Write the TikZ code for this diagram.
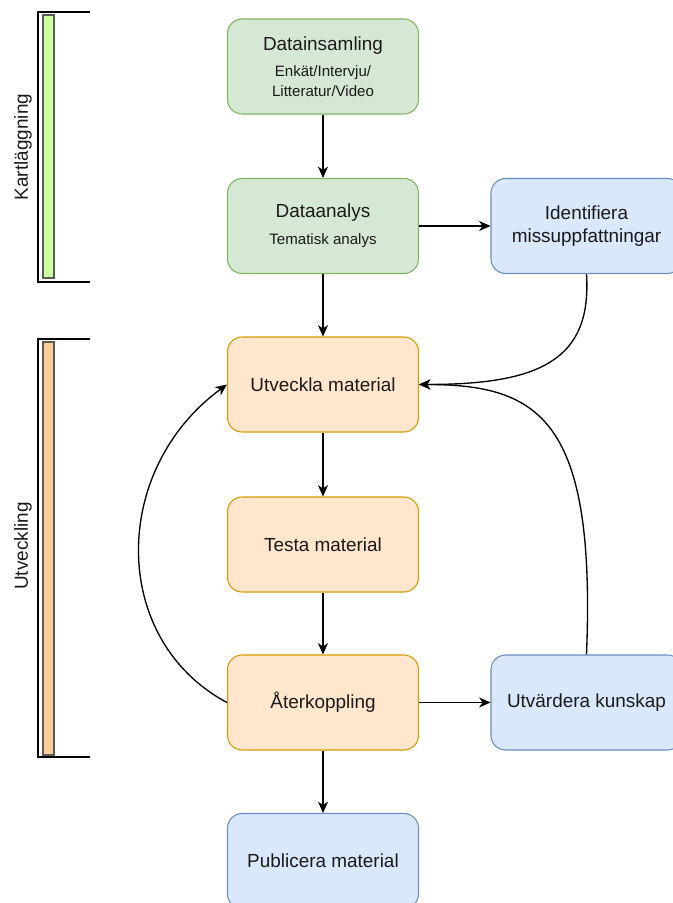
\documentclass[tikz,border=0pt]{standalone}
\usepackage{fontspec}
\setmainfont{Liberation Sans}
\usetikzlibrary{arrows.meta}
\definecolor{gfill}{HTML}{D5E8D4}
\definecolor{gdraw}{HTML}{82B366}
\definecolor{ofill}{HTML}{FFE6CC}
\definecolor{odraw}{HTML}{D79B00}
\definecolor{bfill}{HTML}{DAE8FC}
\definecolor{bdraw}{HTML}{6C8EBF}
\definecolor{txt}{HTML}{1A1A1A}
\definecolor{limebar}{HTML}{CCFF99}
\definecolor{orangebar}{HTML}{FFCC99}
\definecolor{barline}{HTML}{5A5A5A}
\begin{document}
\begin{tikzpicture}[x=0.75pt,y=-0.75pt,
  box/.style={rounded corners=11pt, minimum width=143.25pt, minimum height=71.25pt,
    line width=0.8pt, align=center, inner sep=0pt, text=txt,
    font=\fontsize{14.2}{17}\selectfont},
  greenbox/.style={box, fill=gfill, draw=gdraw},
  orangebox/.style={box, fill=ofill, draw=odraw},
  bluebox/.style={box, fill=bfill, draw=bdraw},
  edge/.style={-{Stealth[length=8.5pt,width=7.5pt,inset=2.5pt]}, line width=1pt, draw=black},
  bracket/.style={line width=1.2pt, draw=black},
  bar/.style={line width=0.8pt, draw=barline},
  sidelabel/.style={rotate=90, text=txt, font=\fontsize{14.2}{17}\selectfont}
]
\clip (0,0) rectangle (673,903);
\fill[white] (0,0) rectangle (673,903);

% left brackets
\draw[bracket] (90,12) -- (38,12) -- (38,282) -- (90,282);
\draw[bar, fill=limebar] (43,15) rectangle (54,278);
\node[sidelabel] (kl) at (23,147) {Kartläggning};

\draw[bracket] (90,339) -- (38,339) -- (38,757) -- (90,757);
\draw[bar, fill=orangebar] (43,342) rectangle (54,755);
\node[sidelabel] (uv) at (23,546) {Utveckling};

% boxes
\node[greenbox] (dc) at (323,66.5) {Datainsamling\\[2.5pt]{\fontsize{11.3}{13}\selectfont Enkät/Intervju/}\\[-2pt]{\fontsize{11.3}{13}\selectfont Litteratur/Video}};
\node[greenbox] (da) at (323,226) {Dataanalys\\[3pt]{\fontsize{11.3}{13}\selectfont Tematisk analys}};
\node[bluebox] (id) at (586.5,226) {Identifiera\\missuppfattningar};
\node[orangebox] (ut) at (323,384.5) {Utveckla material};
\node[orangebox] (te) at (323,544.5) {Testa material};
\node[orangebox] (ak) at (323,702.5) {Återkoppling};
\node[bluebox] (uk) at (586.5,702.5) {Utvärdera kunskap};
\node[bluebox] (pu) at (323,861) {Publicera material};

% straight edges
\draw[edge] (dc) -- (da);
\draw[edge] (da) -- (id);
\draw[edge] (da) -- (ut);
\draw[edge] (ut) -- (te);
\draw[edge] (te) -- (ak);
\draw[edge] (ak) -- (uk);
\draw[edge] (ak) -- (pu);

% curved edges
\draw[edge] (id.south) .. controls (592,360) and (540,384.5) .. (ut.east);
\draw[edge] (uk.north) .. controls (596,420) and (540,384.5) .. (ut.east);
\draw[edge] (ak.west) .. controls (110,640) and (110,470) .. (ut.west);
\end{tikzpicture}
\end{document}
